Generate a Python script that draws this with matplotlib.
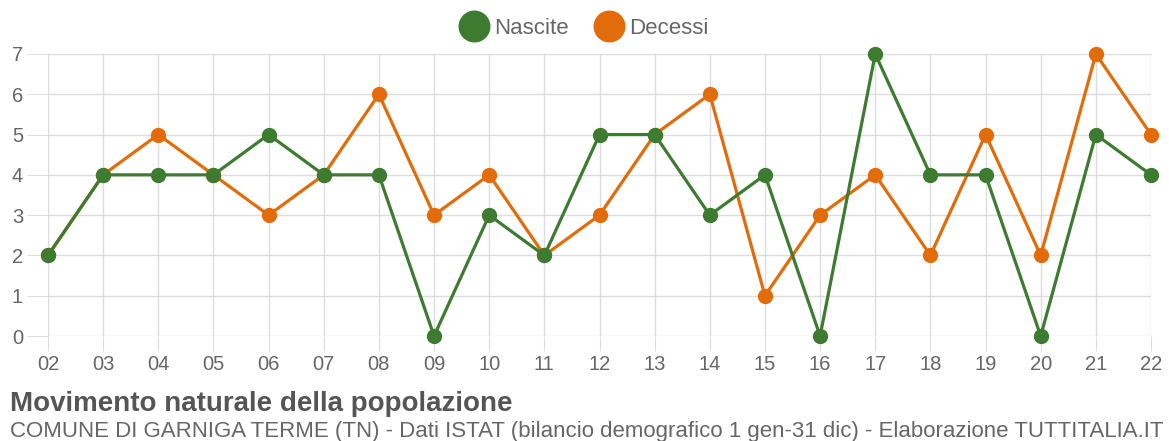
import numpy as np
import matplotlib
matplotlib.use('Agg')
import matplotlib.pyplot as plt
from matplotlib.lines import Line2D

plt.rcParams['font.family'] = ['Liberation Sans', 'DejaVu Sans']

anni = ['02', '03', '04', '05', '06', '07', '08', '09', '10', '11', '12',
        '13', '14', '15', '16', '17', '18', '19', '20', '21', '22']
nascite = [2, 4, 4, 4, 5, 4, 4, 0, 3, 2, 5, 5, 3, 4, 0, 7, 4, 4, 0, 5, 4]
decessi = [2, 4, 5, 4, 3, 4, 6, 3, 4, 2, 3, 5, 6, 1, 3, 4, 2, 5, 2, 7, 5]

verde = '#3d7b31'
arancio = '#e36c0a'
grigio = '#666666'

W, H = 1169, 441
fig = plt.figure(figsize=(W / 100, H / 100), dpi=100)
ax = fig.add_axes([48 / W, (H - 336) / H, (1151 - 48) / W, (336 - 54) / H])

x = np.arange(len(anni))
ax.plot(x, decessi, color=arancio, lw=2.3, marker='o', ms=10, clip_on=False, zorder=3)
ax.plot(x, nascite, color=verde, lw=2.3, marker='o', ms=10, clip_on=False, zorder=4)

ax.set_xlim(0, len(anni) - 1)
ax.set_ylim(0, 7)
ax.set_xticks(x)
ax.set_xticklabels(anni)
ax.set_yticks(range(8))
ax.grid(True, color='#dddddd', lw=1)
ax.set_axisbelow(True)
for s in ax.spines.values():
    s.set_visible(False)
ax.tick_params(axis='x', length=11, color='#dddddd', labelsize=14.5, labelcolor=grigio, pad=3)
ax.tick_params(axis='y', length=15, color='#dddddd', labelsize=14.5, labelcolor=grigio, pad=3)

handles = [Line2D([], [], ls='none', marker='o', ms=22, color=verde),
           Line2D([], [], ls='none', marker='o', ms=22, color=arancio)]
fig.legend(handles, ['Nascite', 'Decessi'], loc='center', bbox_to_anchor=(0.5, 1 - 28 / H),
           ncol=2, frameon=False, fontsize=16, labelcolor=grigio,
           handlelength=1.2, handletextpad=0.3, columnspacing=1.2)

fig.text(10 / W, 1 - 404 / H, 'Movimento naturale della popolazione', fontsize=20,
         fontweight='bold', color='#555555', va='center', ha='left')
fig.text(10 / W, 1 - 432 / H,
         'COMUNE DI GARNIGA TERME (TN) - Dati ISTAT (bilancio demografico 1 gen-31 dic) - Elaborazione TUTTITALIA.IT',
         fontsize=16, color=grigio, va='center', ha='left')

fig.savefig('out.png', dpi=100)
